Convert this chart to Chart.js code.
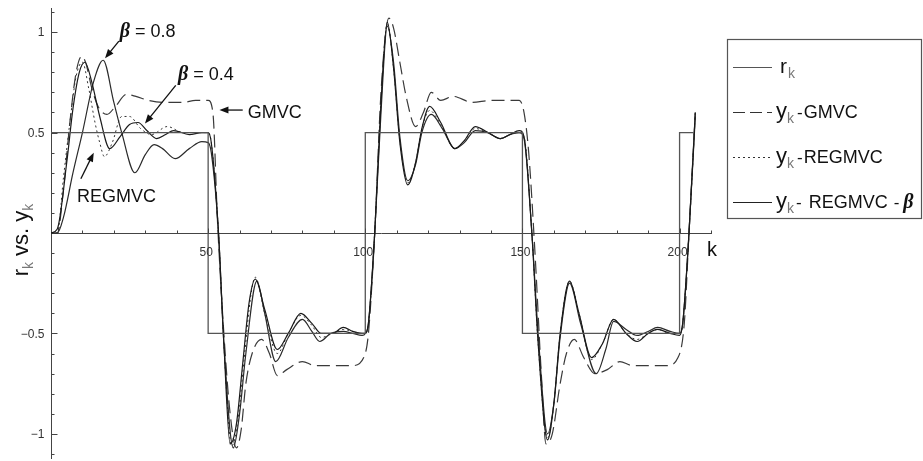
<!DOCTYPE html>
<html><head><meta charset="utf-8">
<script src="https://cdn.jsdelivr.net/npm/chart.js@4/dist/chart.umd.min.js"></script>
<style>html,body{margin:0;padding:0;background:#fff;}canvas{display:block;}</style>
</head><body>
<canvas id="c" width="923" height="461"></canvas>
<script>
// ---------------- data ----------------
const rK = [0, 50, 100, 150, 200, 204.5];
const rV = [0.5, -0.5, 0.5, -0.5, 0.5, 0.5];

const gK = [
0, 2, 4, 6, 8, 9.8, 11, 13, 15, 17.8,
20.5, 24, 27, 31, 36, 42, 46, 50, 51.5, 53,
55, 57, 59, 60.5, 62, 64, 67, 69.5, 72, 75,
80, 84, 90, 96, 99.5, 101, 103, 105, 107.5, 109,
111, 113, 116, 118.5, 121, 124, 128, 134, 140, 149,
150.5, 152, 154, 156, 157.5, 159.5, 162, 164, 166.5, 169.5,
173, 177, 181, 185, 190, 196, 199.5, 201.5, 203, 205];
const gV = [
0, 0, 0.22, 0.55, 0.8, 0.88, 0.85, 0.72, 0.63, 0.59,
0.63, 0.69, 0.68, 0.66, 0.65, 0.65, 0.66, 0.66, 0.6, 0.05,
-0.5, -0.9, -1.07, -0.98, -0.75, -0.6, -0.53, -0.6, -0.71, -0.68,
-0.64, -0.66, -0.66, -0.66, -0.62, -0.5, 0.0, 0.7, 1.07, 1.02,
0.85, 0.68, 0.53, 0.6, 0.7, 0.66, 0.68, 0.65, 0.66, 0.66,
0.6, 0.4, -0.1, -0.7, -1.05, -1.0, -0.75, -0.6, -0.53, -0.62,
-0.7, -0.68, -0.64, -0.66, -0.66, -0.66, -0.62, -0.45, 0.0, 0.6];

const cK = [
0, 2, 4, 6, 8, 10, 12, 14, 15.5, 17,
19.5, 22.5, 25, 28.5, 32, 37, 42, 47, 50, 51,
53.3, 55, 57.5, 59.5, 61.5, 63.5, 65, 68, 72, 75.5,
79.5, 83, 86, 89.5, 93, 96, 99, 100, 101, 103,
105, 107, 109, 111, 113.5, 116, 118, 120.5, 124, 128.5,
131.5, 135, 139, 143, 146, 149, 150.5, 153, 155, 158,
160, 162, 165, 168, 172, 175.5, 179, 183, 186.5, 190,
193, 197, 200, 201, 203, 205];
const cV = [
0, 0, 0.28, 0.55, 0.78, 0.85, 0.72, 0.55, 0.45, 0.38,
0.45, 0.58, 0.58, 0.52, 0.49, 0.53, 0.5, 0.5, 0.5, 0.45,
0, -0.55, -1.06, -0.93, -0.62, -0.32, -0.22, -0.4, -0.6, -0.5,
-0.41, -0.46, -0.52, -0.5, -0.48, -0.49, -0.5, -0.5, -0.45, 0,
0.65, 1.04, 0.82, 0.46, 0.25, 0.35, 0.52, 0.61, 0.54, 0.42,
0.46, 0.52, 0.5, 0.47, 0.49, 0.5, 0.48, 0, -0.55, -1.02,
-0.85, -0.5, -0.24, -0.4, -0.63, -0.55, -0.43, -0.5, -0.53, -0.5,
-0.48, -0.5, -0.5, -0.45, 0, 0.6];

const aK = [
0, 2, 5, 7, 9, 10.8, 13, 15.5, 18.7, 22,
25, 27.7, 30.5, 33.6, 36.5, 39, 44, 48, 50, 51,
53.3, 55, 57, 59, 61, 63, 65, 68, 72, 75.5,
79.5, 83, 86, 89.5, 93, 96, 99, 100, 101, 103,
105, 107, 109, 111, 113.5, 116, 118, 120.5, 124, 128.5,
131.5, 135, 139, 143, 146, 149, 150.5, 153, 155, 158,
160, 162, 165, 168, 172, 175.5, 179, 183, 186.5, 190,
193, 197, 200, 201, 203, 205];
const aV = [
0, 0.02, 0.35, 0.62, 0.8, 0.85, 0.75, 0.58, 0.42, 0.48,
0.54, 0.55, 0.51, 0.47, 0.49, 0.51, 0.49, 0.5, 0.5, 0.45,
0, -0.55, -1.05, -0.95, -0.65, -0.35, -0.23, -0.38, -0.58, -0.5,
-0.4, -0.45, -0.5, -0.5, -0.47, -0.49, -0.5, -0.5, -0.45, 0,
0.65, 1.05, 0.82, 0.45, 0.24, 0.35, 0.52, 0.63, 0.55, 0.42,
0.46, 0.53, 0.5, 0.47, 0.49, 0.51, 0.48, 0, -0.55, -1.03,
-0.85, -0.5, -0.24, -0.4, -0.62, -0.55, -0.43, -0.5, -0.54, -0.5,
-0.48, -0.5, -0.51, -0.45, 0, 0.6];

const bK = [
0, 2, 4, 7, 10, 13.5, 16.6, 20, 22.5, 26.7,
30, 32.8, 35.5, 39.5, 44, 48, 50, 51, 53.3, 55,
58, 60, 62, 65.5, 68, 71.5, 75.5, 80, 83, 85.5,
89, 93, 96, 99, 100, 101, 103, 105, 107, 109,
111, 113.5, 116, 118, 121, 124.5, 128.5, 131.5, 135, 139,
143, 146, 149, 150.5, 153, 155, 158, 160, 162, 165,
168.5, 173.5, 176.5, 179, 183, 186.5, 190, 193, 197, 200,
201, 203, 205];
const bV = [
0, 0, 0.08, 0.3, 0.5, 0.75, 0.86, 0.65, 0.5, 0.3,
0.39, 0.44, 0.42, 0.37, 0.42, 0.455, 0.45, 0.4, 0, -0.55,
-1.07, -0.9, -0.6, -0.24, -0.4, -0.64, -0.52, -0.43, -0.49, -0.54,
-0.5, -0.49, -0.5, -0.51, -0.5, -0.45, 0, 0.6, 1.03, 0.85,
0.48, 0.26, 0.34, 0.5, 0.59, 0.52, 0.42, 0.45, 0.51, 0.5,
0.47, 0.49, 0.5, 0.47, 0, -0.5, -1.0, -0.85, -0.52, -0.25,
-0.45, -0.7, -0.58, -0.44, -0.48, -0.51, -0.49, -0.47, -0.49, -0.5,
-0.45, 0, 0.58];

const xTicks = [50, 100, 150, 200];
const xTickLabels = ['50', '100', '150', '200'];
const yTicks = [-1, -0.5, 0.5, 1];
const yTickLabels = ['\u22121', '\u22120.5', '0.5', '1'];

[[gK,gV],[cK,cV],[aK,aV],[bK,bV],[rK,rV]].forEach(([k,v],i)=>{ if(k.length!==v.length) throw new Error('length mismatch '+i+': '+k.length+' vs '+v.length); });

// ---------------- styling / layout ----------------
const SANS = '"Liberation Sans", Arial, sans-serif';
const SERIF = '"Liberation Serif", "Times New Roman", serif';

const annotations = [
  {beta:true, text:' = 0.8', at:[21.9, 0.975], tail:[21.6, 0.955], head:[17.2, 0.87]},
  {beta:true, text:' = 0.4', at:[40.4, 0.76], tail:[39.7, 0.735], head:[29.9, 0.545]},
  {beta:false, text:'GMVC', at:[62.6, 0.572], tail:[61.0, 0.612], head:[53.6, 0.612]},
  {beta:false, text:'REGMVC', at:[8.3, 0.154], tail:[9.5, 0.27], head:[13.6, 0.4]}
];

function pts(ks, vs){ return ks.map((k,i)=>({x:k, y:vs[i]})); }
function ds(label, ks, vs, extra){
  return Object.assign({label, data:pts(ks,vs), borderColor:'#1a1a1a', borderWidth:1.2,
    pointRadius:0, pointHoverRadius:0, fill:false, cubicInterpolationMode:'monotone'}, extra);
}

function line(ctx,x1,y1,x2,y2){ ctx.beginPath(); ctx.moveTo(x1,y1); ctx.lineTo(x2,y2); ctx.stroke(); }
function arrow(ctx,x1,y1,x2,y2){
  const ang = Math.atan2(y2-y1, x2-x1), L=9, W=3.5;
  ctx.lineWidth=1.3; ctx.strokeStyle='#111'; ctx.fillStyle='#111';
  line(ctx,x1,y1,x2-Math.cos(ang)*L*0.8,y2-Math.sin(ang)*L*0.8);
  ctx.beginPath(); ctx.moveTo(x2,y2);
  ctx.lineTo(x2-L*Math.cos(ang)+W*Math.sin(ang), y2-L*Math.sin(ang)-W*Math.cos(ang));
  ctx.lineTo(x2-L*Math.cos(ang)-W*Math.sin(ang), y2-L*Math.sin(ang)+W*Math.cos(ang));
  ctx.closePath(); ctx.fill();
}
function rich(ctx, parts, x, y){
  let cx=x;
  for(const p of parts){ ctx.font=p.font; ctx.fillStyle=p.color||'#111'; ctx.fillText(p.t, cx, y+(p.dy||0)); cx+=ctx.measureText(p.t).width+(p.gap||0); }
  return cx-x;
}
function richWidth(ctx, parts){ let w=0; for(const p of parts){ ctx.font=p.font; w+=ctx.measureText(p.t).width+(p.gap||0);} return w; }

const legendItems = [
  {dash:[], color:'#555', width:1.2, parts:[{t:'r',font:'21px '+SANS,gap:1},{t:'k',font:'14px '+SANS,color:'#777',dy:5}]},
  {dash:[12,5], color:'#333', width:1.2, parts:[{t:'y',font:'22px '+SANS},{t:'k',font:'14px '+SANS,color:'#777',dy:5,gap:3},{t:'-',font:'17px '+SANS,gap:1},{t:'GMVC',font:'18px '+SANS}]},
  {dash:[2,3], color:'#333', width:1, parts:[{t:'y',font:'22px '+SANS},{t:'k',font:'14px '+SANS,color:'#777',dy:5,gap:3},{t:'-',font:'17px '+SANS,gap:1},{t:'REGMVC',font:'18px '+SANS}]},
  {dash:[], color:'#222', width:1.2, parts:[{t:'y',font:'22px '+SANS},{t:'k',font:'14px '+SANS,color:'#777',dy:5,gap:2},{t:'-',font:'17px '+SANS,gap:7},{t:'REGMVC',font:'18px '+SANS,gap:6},{t:'-',font:'17px '+SANS,gap:4},{t:'\u03B2',font:'bold italic 20px '+SERIF}]}
];

const overlay = {
  id:'overlay',
  afterDraw(chart){
    const {ctx, scales:{x, y}} = chart;
    const x0 = Math.round(x.getPixelForValue(0))+0.5, y0 = Math.round(y.getPixelForValue(0))+0.5;
    ctx.save();
    ctx.strokeStyle='#444'; ctx.lineWidth=1; ctx.setLineDash([]);
    for(let k=10;k<=210;k+=10){ const px=Math.round(x.getPixelForValue(k))+0.5; line(ctx,px,y0,px,y0-(k%50===0?5:3)); }
    for(let i=-11;i<=11;i++){ if(i===0) continue; const py=Math.round(y.getPixelForValue(i/10))+0.5; line(ctx,x0,py,x0+(i%5===0?6:3),py); }
    ctx.fillStyle='#333'; ctx.font='12px '+SANS;
    ctx.textAlign='center'; ctx.textBaseline='top';
    xTicks.forEach((v,i)=>ctx.fillText(xTickLabels[i], x.getPixelForValue(v)-2, y0+13));
    ctx.textAlign='right'; ctx.textBaseline='middle';
    yTicks.forEach((v,i)=>ctx.fillText(yTickLabels[i], x0-7, y.getPixelForValue(v)+1));
    ctx.textAlign='left'; ctx.textBaseline='alphabetic';
    ctx.fillStyle='#111'; ctx.font='20px '+SANS;
    ctx.fillText('k', x.right-4, y0+22);
    const yt=[{t:'r',font:'22px '+SANS},{t:'k',font:'14px '+SANS,color:'#777',dy:5},{t:' vs. ',font:'22px '+SANS},{t:'y',font:'22px '+SANS},{t:'k',font:'14px '+SANS,color:'#777',dy:5}];
    ctx.save(); ctx.translate(28, 240); ctx.rotate(-Math.PI/2);
    rich(ctx, yt, -richWidth(ctx,yt)/2, 0); ctx.restore();
    for(const a of annotations){
      const tx=x.getPixelForValue(a.at[0]), ty=y.getPixelForValue(a.at[1]);
      if(a.beta){ rich(ctx,[{t:'\u03B2',font:'bold italic 20px '+SERIF},{t:a.text,font:'18px '+SANS}],tx,ty); }
      else { ctx.font='18px '+SANS; ctx.fillStyle='#111'; ctx.fillText(a.text,tx,ty); }
      arrow(ctx, x.getPixelForValue(a.tail[0]), y.getPixelForValue(a.tail[1]), x.getPixelForValue(a.head[0]), y.getPixelForValue(a.head[1]));
    }
    ctx.strokeStyle='#555'; ctx.lineWidth=1.2; ctx.setLineDash([]);
    ctx.strokeRect(727.5, 39.5, 194, 179);
    legendItems.forEach((it,i)=>{
      const ly = 67 + i*45;
      ctx.strokeStyle=it.color; ctx.lineWidth=it.width; ctx.setLineDash(it.dash);
      line(ctx, 733, ly+0.5, 772, ly+0.5);
      ctx.setLineDash([]);
      rich(ctx, it.parts, i===0?780:776, ly+6);
    });
    ctx.restore();
  }
};

new Chart(document.getElementById('c'), {
  type:'line',
  data:{datasets:[
    ds('r_k', rK, rV, {stepped:true, borderColor:'#555', borderWidth:1.3, cubicInterpolationMode:'default', tension:0}),
    ds('y_k - REGMVC - \u03B2 (\u03B2=0.4)', aK, aV, {borderColor:'#1a1a1a', borderWidth:1.2}),
    ds('y_k - REGMVC - \u03B2 (\u03B2=0.8)', bK, bV, {borderColor:'#2a2a2a', borderWidth:1.2}),
    ds('y_k - GMVC', gK, gV, {borderDash:[13,6], borderColor:'#3a3a3a', borderWidth:1.2}),
    ds('y_k - REGMVC', cK, cV, {borderDash:[2,3], borderColor:'#333', borderWidth:1})
  ]},
  options:{
    responsive:false, animation:false, devicePixelRatio:1,
    layout:{padding:{left:51, right:212, top:8, bottom:3}},
    plugins:{legend:{display:false}, tooltip:{enabled:false}},
    events:[],
    scales:{
      x:{type:'linear', min:0, max:210, position:{y:0},
         grid:{display:false, drawTicks:false}, border:{display:true, color:'#444', width:1},
         ticks:{display:false}},
      y:{type:'linear', min:-1.12, max:1.12, position:{x:0},
         grid:{display:false, drawTicks:false}, border:{display:true, color:'#444', width:1},
         ticks:{display:false}}
    }
  },
  plugins:[overlay]
});
</script>
</body></html>
